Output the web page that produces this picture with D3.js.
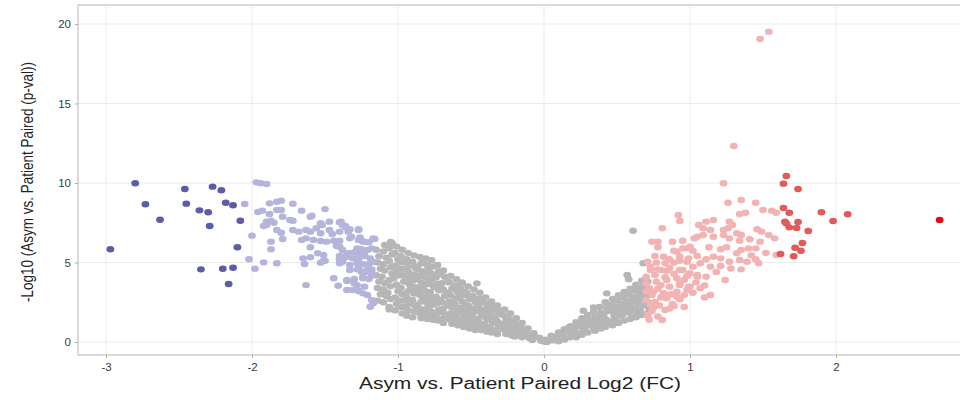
<!DOCTYPE html>
<html>
<head>
<meta charset="utf-8">
<script src="https://cdn.jsdelivr.net/npm/d3@7"></script>
<style>
  html, body { margin: 0; padding: 0; background: #fff; }
  svg { display: block; }
</style>
</head>
<body>
<svg id="chart" width="960" height="400"></svg>
<script>
// Volcano plot: each point is [log2 fold change, -log10 p-value]

// strongly down-regulated
const downStrong = [
  [-2.80,9.98],[-2.46,9.62],[-2.27,9.77],[-2.21,9.54],[-2.73,8.66],[-2.45,8.70],
  [-2.18,8.76],[-2.13,8.60],[-2.36,8.28],[-2.30,8.16],[-2.63,7.69],[-2.08,7.63],
  [-2.29,7.30],[-2.97,5.83],[-2.10,5.96],[-2.35,4.57],[-2.20,4.61],[-2.13,4.67],
  [-2.16,3.65]
];

// moderately down-regulated
const downMild = [
  [-1.97,10.04],[-1.94,9.98],[-1.90,9.94],[-2.05,8.68],
  [-1.88,8.72],[-1.83,8.82],[-1.80,8.89],[-1.72,8.70],[-1.50,8.36],
  [-1.96,8.18],[-1.93,8.26],[-1.88,8.05],[-1.83,8.30],[-1.80,8.30],
  [-1.66,8.26],[-1.60,7.88],[-1.59,7.94],[-1.79,7.88],[-1.74,7.67],[-1.72,7.63],
  [-1.90,7.57],[-1.87,7.63],[-1.85,7.50],[-1.92,7.30],[-1.90,7.36],
  [-1.53,7.47],[-1.52,7.36],[-1.47,7.57],[-1.40,7.53],[-1.38,7.36],[-1.36,7.21],
  [-1.83,7.04],[-1.80,6.87],
  [-1.72,7.04],[-1.68,6.94],[-1.63,7.04],[-1.60,6.94],[-1.56,7.15],[-1.53,6.84],
  [-1.47,7.04],[-1.45,6.79],[-1.40,6.94],[-1.34,6.94],[-1.27,7.04],
  [-1.39,7.57],[-1.36,7.30],[-1.33,7.09],[-1.27,7.09],
  [-2.00,6.69],[-1.87,6.31],[-1.79,6.48],
  [-1.66,6.42],[-1.63,6.52],[-1.58,6.42],[-1.53,6.35],[-1.49,6.31],[-1.44,6.37],
  [-1.40,6.37],[-1.33,6.52],[-1.27,6.42],[-1.24,6.31],[-1.20,6.27],[-1.16,6.48],
  [-1.32,6.62],[-1.26,6.58],[-1.23,6.31],[-1.17,6.52],
  [-1.60,5.96],[-1.42,6.04],[-1.40,5.99],[-1.87,5.83],
  [-1.28,5.89],[-1.25,5.83],[-1.21,5.79],[-1.18,5.89],
  [-1.38,5.79],[-1.34,5.58],[-1.28,5.79],[-1.23,5.47],[-1.19,5.26],[-1.17,5.05],
  [-1.55,5.58],[-1.51,5.47],[-1.40,5.41],[-1.35,5.47],[-1.31,5.62],[-1.27,5.47],[-1.23,5.41],
  [-1.65,5.26],[-1.60,5.33],[-1.51,5.11],[-1.40,5.20],[-1.36,5.33],[-1.31,5.26],[-1.27,5.16],
  [-2.02,5.20],[-1.92,5.01],[-1.83,4.95],[-1.64,4.91],[-1.53,4.99],[-1.50,5.11],
  [-1.40,4.95],[-1.38,5.05],
  [-1.33,4.84],[-1.28,4.95],[-1.24,4.89],[-1.20,4.91],
  [-1.98,4.61],
  [-1.33,4.53],[-1.28,4.57],[-1.25,4.42],[-1.21,4.53],[-1.18,4.36],
  [-1.27,4.64],[-1.21,4.42],[-1.18,4.57],
  [-1.44,4.01],[-1.35,3.90],[-1.30,3.96],[-1.24,4.11],[-1.20,3.96],[-1.18,4.16],
  [-1.35,3.84],[-1.30,3.69],[-1.24,4.01],
  [-1.63,3.58],[-1.41,3.54],[-1.28,3.58],[-1.23,3.48],
  [-1.35,3.27],[-1.27,3.21],[-1.31,3.27],[-1.24,3.06],[-1.21,2.96],
  [-1.18,2.64],[-1.19,2.22],[-1.17,2.43]
];

// not significant
const neutral = [
  [-1.15,5.8],[-1.13,5.4],[-1.14,5.0],[-1.12,4.6],[-1.15,4.2],[-1.13,3.8],[-1.14,3.4],[-1.12,3.0],[-1.14,2.6],
  [-1.09,6.1],[-1.10,5.7],[-1.08,5.3],[-1.10,4.9],[-1.09,4.5],[-1.11,4.1],[-1.09,3.7],[-1.10,3.3],[-1.08,2.9],[-1.10,2.5],
  [-1.05,6.3],[-1.06,5.9],[-1.04,5.5],[-1.06,5.1],[-1.05,4.7],[-1.04,4.3],[-1.06,3.9],[-1.05,3.5],[-1.07,3.1],[-1.05,2.7],[-1.06,2.2],
  [-1.01,6.0],[-1.02,5.6],[-1.00,5.2],[-1.02,4.8],[-1.01,4.4],[-1.03,4.0],[-1.01,3.6],[-1.00,3.2],[-1.02,2.8],[-1.01,2.4],[-1.02,2.0],
  [-0.97,5.8],[-0.98,5.4],[-0.96,5.0],[-0.98,4.6],[-0.97,4.2],[-0.96,3.8],[-0.98,3.4],[-0.97,3.0],[-0.96,2.6],[-0.98,2.2],[-0.97,1.8],
  [-0.93,5.6],[-0.94,5.2],[-0.92,4.8],[-0.93,4.4],[-0.94,4.0],[-0.92,3.6],[-0.93,3.2],[-0.94,2.8],[-0.92,2.4],[-0.93,2.0],[-0.94,1.65],
  [-0.89,5.45],[-0.90,5.05],[-0.88,4.65],[-0.89,4.25],[-0.90,3.85],[-0.88,3.45],[-0.89,3.05],[-0.90,2.65],[-0.88,2.25],[-0.89,1.9],[-0.90,1.55],
  [-0.85,5.35],[-0.84,4.95],[-0.86,4.55],[-0.85,4.15],[-0.84,3.75],[-0.86,3.35],[-0.85,2.95],[-0.84,2.55],[-0.86,2.15],[-0.85,1.8],[-0.84,1.5],
  [-0.81,5.25],[-0.80,4.85],[-0.82,4.45],[-0.81,4.05],[-0.80,3.65],[-0.82,3.25],[-0.81,2.85],[-0.80,2.45],[-0.82,2.05],[-0.81,1.7],[-0.80,1.45],
  [-0.77,5.15],[-0.76,4.75],[-0.78,4.35],[-0.77,3.95],[-0.76,3.55],[-0.78,3.15],[-0.77,2.75],[-0.76,2.35],[-0.78,1.95],[-0.77,1.6],[-0.76,1.4],
  [-0.73,4.85],[-0.72,4.45],[-0.74,4.05],[-0.73,3.65],[-0.72,3.25],[-0.74,2.85],[-0.73,2.45],[-0.72,2.05],[-0.74,1.7],[-0.73,1.35],
  [-0.69,4.5],[-0.68,4.1],[-0.70,3.7],[-0.69,3.3],[-0.68,2.9],[-0.70,2.5],[-0.69,2.1],[-0.68,1.75],[-0.70,1.45],[-0.69,1.2],
  [-0.64,4.15],[-0.65,3.75],[-0.63,3.35],[-0.64,2.95],[-0.65,2.55],[-0.63,2.15],[-0.64,1.8],[-0.65,1.45],[-0.63,1.15],
  [-0.60,3.95],[-0.61,3.55],[-0.59,3.15],[-0.60,2.75],[-0.61,2.35],[-0.59,1.95],[-0.60,1.6],[-0.61,1.3],[-0.59,1.05],
  [-0.56,3.75],[-0.57,3.35],[-0.55,2.95],[-0.56,2.55],[-0.57,2.15],[-0.55,1.8],[-0.56,1.45],[-0.57,1.2],[-0.55,0.95],
  [-0.52,3.5],[-0.53,3.1],[-0.51,2.7],[-0.52,2.3],[-0.53,1.95],[-0.51,1.6],[-0.52,1.3],[-0.53,1.05],[-0.51,0.85],
  [-0.48,3.3],[-0.49,2.9],[-0.47,2.5],[-0.48,2.1],[-0.49,1.75],[-0.47,1.45],[-0.48,1.15],[-0.49,0.9],[-0.47,0.75],
  [-0.44,3.1],[-0.43,2.7],[-0.45,2.3],[-0.44,1.95],[-0.43,1.6],[-0.45,1.3],[-0.44,1.0],[-0.43,0.75],
  [-0.40,2.8],[-0.39,2.4],[-0.41,2.05],[-0.40,1.7],[-0.39,1.4],[-0.41,1.1],[-0.40,0.85],[-0.39,0.65],
  [-0.36,2.55],[-0.35,2.2],[-0.37,1.85],[-0.36,1.5],[-0.35,1.2],[-0.37,0.9],[-0.36,0.6],
  [-0.32,2.3],[-0.31,1.95],[-0.33,1.6],[-0.32,1.3],[-0.31,1.0],[-0.33,0.75],[-0.32,0.5],
  [-0.27,2.05],[-0.28,1.7],[-0.26,1.4],[-0.27,1.1],[-0.28,0.8],[-0.26,0.5],
  [-0.23,1.8],[-0.24,1.45],[-0.22,1.15],[-0.23,0.85],[-0.24,0.6],[-0.22,0.4],
  [-0.19,1.5],[-0.20,1.2],[-0.18,0.9],[-0.19,0.6],[-0.20,0.35],
  [-0.15,1.2],[-0.16,0.9],[-0.14,0.6],[-0.15,0.3],
  [-0.11,0.85],[-0.12,0.55],[-0.10,0.25],
  [-0.07,0.55],[-0.06,0.3],[-0.08,0.12],
  [-0.03,0.25],[-0.02,0.08],[0.00,0.03],
  [-1.04,6.2],[-0.46,3.69],[-1.06,2.05],
  [-0.99,5.0],[-0.99,4.2],[-0.99,3.4],[-0.99,2.6],[-0.95,4.6],[-0.95,3.8],[-0.95,3.0],[-0.95,2.2],
  [-0.91,5.0],[-0.91,4.2],[-0.91,3.4],[-0.91,2.6],[-0.87,4.75],[-0.87,3.95],[-0.87,3.15],[-0.87,2.35],
  [-0.83,5.05],[-0.83,4.25],[-0.83,3.45],[-0.83,2.65],[-0.83,1.85],[-0.79,4.55],[-0.79,3.75],[-0.79,2.95],
  [-0.79,2.15],[-0.75,4.25],[-0.75,3.45],[-0.75,2.65],[-0.75,1.85],[-0.71,4.25],[-0.71,3.45],[-0.71,2.65],
  [-0.71,1.9],[-0.66,3.9],[-0.66,3.1],[-0.66,2.3],[-0.66,1.6],[-0.62,3.35],[-0.62,2.55],[-0.62,1.75],
  [-0.58,3.55],[-0.58,2.75],[-0.58,1.95],[-0.58,1.25],[-0.54,3.15],[-0.54,2.35],[-0.54,1.6],[-0.50,2.9],
  [-0.50,2.1],[-0.50,1.35],[-0.46,2.7],[-0.46,1.95],[-0.46,1.2],[-0.42,2.5],[-0.42,1.8],[-0.42,1.1],
  [-0.38,2.2],[-0.38,1.55],[-0.38,0.95],[-0.34,2.0],[-0.34,1.35],[-0.34,0.75],[-0.30,1.8],[-0.30,1.15],
  [-0.25,1.6],[-0.25,0.95],[-0.21,1.3],[-0.21,0.7],[-0.17,1.05],[-0.17,0.45],[-0.13,0.75],[-0.13,0.4],
  [0.01,0.15],[0.02,0.0],
  [0.05,0.4],[0.06,0.1],
  [0.10,0.6],[0.09,0.3],[0.10,0.05],
  [0.14,0.8],[0.13,0.45],[0.14,0.15],
  [0.18,1.0],[0.17,0.65],[0.18,0.3],
  [0.22,1.25],[0.21,0.9],[0.23,0.55],[0.22,0.3],
  [0.26,1.5],[0.25,1.15],[0.27,0.8],[0.26,0.45],
  [0.30,1.7],[0.31,1.35],[0.29,1.0],[0.30,0.6],
  [0.34,1.95],[0.35,1.6],[0.33,1.25],[0.34,0.9],[0.35,0.7],
  [0.38,2.2],[0.39,1.85],[0.37,1.5],[0.38,1.15],[0.39,0.85],
  [0.42,2.5],[0.43,2.15],[0.41,1.8],[0.42,1.45],[0.43,1.1],[0.42,0.95],
  [0.47,2.7],[0.46,2.35],[0.47,2.0],[0.48,1.65],[0.46,1.3],[0.47,1.05],
  [0.51,2.95],[0.50,2.6],[0.52,2.25],[0.51,1.9],[0.50,1.55],[0.51,1.2],
  [0.55,3.15],[0.54,2.8],[0.56,2.45],[0.55,2.1],[0.54,1.75],[0.55,1.35],
  [0.59,3.35],[0.58,3.0],[0.60,2.65],[0.59,2.3],[0.58,1.95],[0.60,1.6],[0.59,1.45],
  [0.63,3.6],[0.62,3.25],[0.64,2.9],[0.63,2.5],[0.62,2.1],[0.64,1.75],[0.63,1.55],
  [0.67,3.85],[0.68,3.5],[0.66,3.1],[0.67,2.7],[0.68,2.3],[0.66,1.95],[0.67,1.7],
  [0.71,3.8],[0.72,3.3],[0.70,2.9],[0.71,2.5],[0.72,2.1],[0.71,1.8],
  [0.12,0.6],[0.16,0.85],[0.20,0.65],[0.24,1.0],[0.28,1.25],[0.32,1.1],[0.36,1.4],[0.36,1.05],
  [0.40,1.65],[0.40,1.3],[0.44,1.95],[0.44,1.3],[0.49,2.2],[0.49,1.45],[0.53,2.4],[0.53,1.7],
  [0.57,2.6],[0.57,1.9],[0.61,2.85],[0.61,2.0],[0.65,3.25],[0.65,2.35],
  [0.61,7.0],[0.68,4.95],[0.57,4.21],[0.58,3.94],[0.43,3.06],[0.66,3.38],[0.27,1.97],[0.34,2.18]
];

// moderately up-regulated
const upMild = [
  [1.54,19.52],[1.48,19.06],[1.30,12.33],[1.23,9.98],[1.26,8.76],[1.35,8.93],[1.45,8.76],
  [1.50,8.30],[1.56,8.26],[1.59,8.13],[1.34,8.05],[1.38,8.13],[0.92,7.99],[0.93,7.61],
  [0.81,7.15],[1.06,7.36],[1.11,7.57],[1.16,7.67],[1.27,7.57],[1.29,7.36],[1.09,7.15],
  [1.14,7.04],[1.23,7.04],[1.26,7.15],[1.46,7.09],[1.49,6.94],
  [0.74,6.31],[0.78,6.31],[0.88,6.31],[0.95,6.37],[1.03,6.52],[1.05,6.62],[1.09,6.73],
  [1.16,6.62],[1.23,6.73],[1.27,6.52],[1.32,6.84],[1.34,6.37],[1.41,6.46],[1.54,6.73],
  [1.58,6.52],[1.48,6.31],[1.35,6.73],
  [0.78,5.96],[0.89,5.74],[0.95,5.89],[1.00,5.99],[1.02,5.74],[1.13,5.96],[1.21,5.83],
  [1.25,5.96],[1.32,5.58],[1.40,5.89],[1.45,5.89],[0.91,5.68],[0.98,5.89],[1.35,5.79],
  [1.59,5.47],[0.76,5.41],[0.82,5.36],[0.86,5.20],[0.93,5.36],[0.99,5.26],[1.05,5.41],
  [1.11,5.20],[1.16,5.36],[1.21,5.26],[1.27,5.05],[1.34,5.16],[1.39,5.05],[1.45,5.20],
  [1.47,4.95],[0.71,5.05],[0.77,4.99],[0.83,4.95],[0.89,4.99],[0.93,5.11],[0.98,5.05],
  [1.07,4.95],[1.14,4.74],[1.21,4.78],[1.35,4.57],[0.73,4.53],[0.78,4.57],[0.84,4.48],
  [0.95,4.53],[1.02,4.74],
  [0.73,4.74],[0.80,4.53],[0.86,4.65],[0.93,4.53],[1.00,4.32],[1.05,4.21],[1.11,4.11],
  [0.70,4.11],[0.76,4.21],[0.83,4.07],[0.91,4.01],[0.98,4.15],[1.05,4.11],[1.24,3.90],
  [0.77,3.79],[0.84,3.90],[0.93,3.69],[0.99,3.48],[1.07,3.38],[1.14,2.96],[0.82,3.06],
  [0.91,2.85],
  [0.70,3.69],[0.80,3.58],[0.86,3.48],[0.93,3.58],[1.00,3.48],
  [0.70,3.16],[0.75,3.16],[0.82,3.06],[0.91,3.16],[0.98,3.27],
  [0.70,2.64],[0.76,2.53],[0.84,2.75],[0.93,2.69],
  [0.75,2.18],[0.83,2.01],[0.89,2.26],
  [0.71,1.70],[0.81,1.38],
  [1.10,2.80],[1.02,3.10],[0.88,2.40],[0.96,2.20],
  [0.72,3.40],[0.78,3.35],[0.74,2.95],[0.80,2.80],[0.87,3.00],[0.96,2.95],[0.73,2.35],
  [0.79,2.30],[0.86,2.10],[0.74,1.95],[0.78,1.60],[0.72,1.40],[1.04,3.75],[1.10,3.55],
  [0.89,4.30],[0.96,3.90],[1.18,4.40],[1.28,4.62],[1.42,5.45],[1.52,5.60]
];

// strongly up-regulated
const upStrong = [
  [1.66,10.44],[1.64,9.96],[1.74,9.62],[1.64,8.43],[1.68,8.13],[1.90,8.16],[2.08,8.03],
  [1.98,7.61],[1.65,7.56],[1.66,7.46],[1.74,7.55],[1.68,7.21],[1.73,7.17],[1.81,6.98],
  [1.77,6.23],[1.72,5.93],[1.76,5.74],[1.62,5.53],[1.71,5.39]
];

// largest fold change
const upExtreme = [[2.71,7.67]];

const xTicks = [-3, -2, -1, 0, 1, 2];
const yTicks = [0, 5, 10, 15, 20];
const xTitle = "Asym vs. Patient Paired Log2 (FC)";
const yTitle = "-Log10 (Asym vs. Patient Paired (p-val))";

const groups = [
  { pts: neutral,    color: "#b6b6b6" },
  { pts: downMild,   color: "#b5b5dc" },
  { pts: upMild,     color: "#f3b3b3" },
  { pts: downStrong, color: "#5b5da8" },
  { pts: upStrong,   color: "#e25a5a" },
  { pts: upExtreme,  color: "#e00d0d" }
];

const svg = d3.select("#chart");
const panel = { left: 78, top: 5, right: 962, bottom: 355 };

const x = d3.scaleLinear().domain([-3, 2]).range([106, 836]);
const y = d3.scaleLinear().domain([0, 20]).range([342, 24]);

svg.append("rect").attr("width", 960).attr("height", 400).attr("fill", "#fff");

// grid
const grid = svg.append("g");
grid.selectAll("line.gx").data(xTicks).join("line")
  .attr("x1", d => x(d)).attr("x2", d => x(d))
  .attr("y1", panel.top).attr("y2", panel.bottom)
  .attr("stroke", "#ebebeb").attr("stroke-width", 1);
grid.selectAll("line.gy").data(yTicks).join("line")
  .attr("y1", d => y(d)).attr("y2", d => y(d))
  .attr("x1", panel.left).attr("x2", panel.right)
  .attr("stroke", "#ebebeb").attr("stroke-width", 1);

// points
const pts = svg.append("g");
groups.forEach(g => {
  pts.append("g").selectAll("ellipse").data(g.pts).join("ellipse")
    .attr("cx", d => x(d[0])).attr("cy", d => y(d[1]))
    .attr("rx", 3.9).attr("ry", 3.2)
    .attr("fill", g.color);
});

// panel frame
svg.append("rect")
  .attr("x", panel.left).attr("y", panel.top)
  .attr("width", panel.right - panel.left).attr("height", panel.bottom - panel.top)
  .attr("fill", "none").attr("stroke", "#c4c4c4").attr("stroke-width", 1.2);

// axes
const xAxis = svg.append("g").attr("transform", `translate(0,${panel.bottom})`)
  .call(d3.axisBottom(x).tickValues(xTicks).tickSize(3).tickPadding(5).tickFormat(d3.format("d")));
const yAxis = svg.append("g").attr("transform", `translate(${panel.left},0)`)
  .call(d3.axisLeft(y).tickValues(yTicks).tickSize(3).tickPadding(4).tickFormat(d3.format("d")));
[xAxis, yAxis].forEach(a => {
  a.select(".domain").remove();
  a.selectAll(".tick line").attr("stroke", "#b0b0b0");
  a.selectAll("text").attr("fill", "#3a3a3a").attr("font-size", 11.5)
    .attr("font-family", "'Liberation Sans', Arial, sans-serif");
});
xAxis.selectAll("text").text(d => d < 0 ? "-" + Math.abs(d) : d);

// titles
svg.append("text")
  .attr("x", (panel.left + panel.right) / 2).attr("y", 389)
  .attr("text-anchor", "middle")
  .attr("font-family", "'Liberation Sans', Arial, sans-serif")
  .attr("font-size", 16).attr("fill", "#222")
  .attr("textLength", 322).attr("lengthAdjust", "spacingAndGlyphs")
  .text(xTitle);

svg.append("text")
  .attr("transform", `translate(33,${(panel.top + panel.bottom) / 2 + 2}) rotate(-90)`)
  .attr("text-anchor", "middle")
  .attr("font-family", "'Liberation Sans', Arial, sans-serif")
  .attr("font-size", 17).attr("fill", "#222")
  .attr("textLength", 240).attr("lengthAdjust", "spacingAndGlyphs")
  .text(yTitle);
</script>
</body>
</html>
